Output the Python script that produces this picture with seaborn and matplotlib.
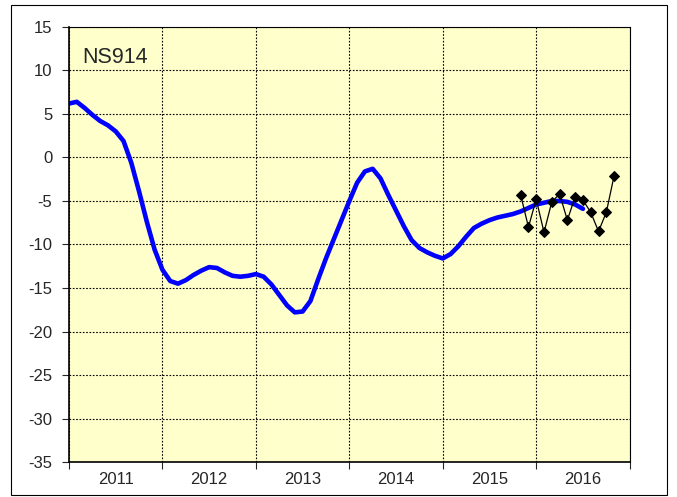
import numpy as np
import pandas as pd
import matplotlib
matplotlib.use("Agg")
import matplotlib.pyplot as plt
import seaborn as sns

# Smoothed series, monthly from Jan 2011
smooth_vals = [6.2, 6.4, 5.7, 4.9, 4.2, 3.7, 3.0, 1.9, -0.6, -3.9, -7.4, -10.6,
               -12.9, -14.2, -14.5, -14.1, -13.5, -13.0, -12.6, -12.7, -13.2, -13.6, -13.7, -13.6,
               -13.4, -13.7, -14.6, -15.8, -17.0, -17.8, -17.7, -16.5, -14.0, -11.6, -9.4, -7.2,
               -5.0, -2.9, -1.6, -1.3, -2.4, -4.3, -6.1, -7.9, -9.5, -10.4, -10.9, -11.3,
               -11.6, -11.1, -10.2, -9.1, -8.1, -7.6, -7.2, -6.9, -6.7, -6.5, -6.2, -5.8,
               -5.4, -5.2, -5.0, -5.0, -5.1, -5.4, -5.9]

# Raw monthly values, Nov 2015 - Nov 2016
raw_start = 58
raw_vals = [-4.3, -8.0, -4.8, -8.6, -5.1, -4.2, -7.2, -4.5, -4.9, -6.3, -8.5, -6.3, -2.1]

years = [2011, 2012, 2013, 2014, 2015, 2016]
label = "NS914"

smooth = pd.DataFrame({"t": 2011 + np.arange(len(smooth_vals)) / 12, "v": smooth_vals})
raw = pd.DataFrame({"t": 2011 + (raw_start + np.arange(len(raw_vals))) / 12, "v": raw_vals})

sns.set_style("white")
plt.rcParams["font.family"] = ["Liberation Sans", "DejaVu Sans"]
plt.rcParams["axes.unicode_minus"] = False

fig = plt.figure(figsize=(6.77, 4.97), dpi=100)
ax = fig.add_axes([0.1019, 0.0704, 0.8282, 0.8753])
ax.set_facecolor("#FFFFCC")

sns.lineplot(data=smooth, x="t", y="v", ax=ax, color="#0000FF", linewidth=3.3,
             solid_capstyle="round", solid_joinstyle="round")
sns.lineplot(data=raw, x="t", y="v", ax=ax, color="black", linewidth=0.9,
             marker="D", markersize=5.5, markeredgecolor="black")

ax.set_xlim(2011, 2017)
ax.set_ylim(-35, 15)
ax.set_yticks(np.arange(-35, 16, 5))
ax.set_xticks(np.arange(2011, 2018))
ax.set_xticklabels([])
ax.set_xticks([y + 0.5 for y in years], minor=True)
ax.set_xticklabels([str(y) for y in years], minor=True)
ax.tick_params(axis="x", which="minor", length=0, pad=7.5, labelsize=12)
ax.tick_params(axis="x", which="major", length=5, width=0.8, direction="out", bottom=True)
ax.tick_params(axis="y", length=5, width=0.8, direction="out", left=True, labelsize=12, pad=7)
ax.set_xlabel("")
ax.set_ylabel("")

ax.grid(True, which="major", color="black", linestyle=(0, (1.5, 1.5)), linewidth=0.8)
ax.set_axisbelow(True)
for s in ax.spines.values():
    s.set_color("black")
    s.set_linewidth(0.8)
ax.spines["left"].set_linewidth(1.2)
ax.spines["bottom"].set_linewidth(1.2)

ax.text(0.024, 0.93, label, transform=ax.transAxes, fontsize=15.5, va="center", ha="left")

# outer frame
fig.patches.append(plt.Rectangle((11 / 677, 2 / 497), 656 / 677, 490 / 497,
                                 transform=fig.transFigure, fill=False,
                                 edgecolor="black", linewidth=0.8))

fig.savefig("out.png", dpi=100)
